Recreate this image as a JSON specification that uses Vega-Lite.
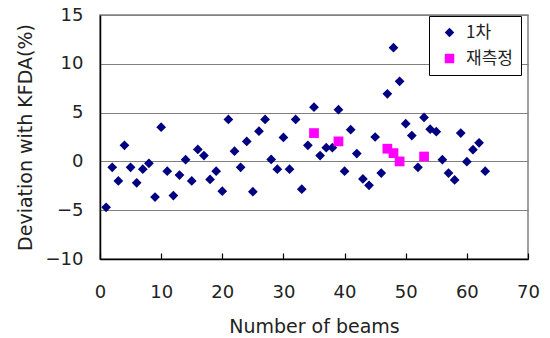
{
  "$schema": "https://vega.github.io/schema/vega-lite/v6.json",
  "autosize": {"type": "none"},
  "padding": {"left": 100, "top": 15, "right": 22, "bottom": 79},
  "width": 428,
  "height": 244,
  "background": "white",
  "view": {"stroke": "#808080", "strokeWidth": 1.5},
  "config": {
    "font": "DejaVu Sans",
    "axis": {"labelFont": "DejaVu Sans", "titleFont": "DejaVu Sans", "labelColor": "#222", "titleColor": "#222", "titleFontWeight": "normal"}
  },
  "data": {
    "values": [
      {"beam": 1, "dev": -4.7, "series": "1차"},
      {"beam": 2, "dev": -0.6, "series": "1차"},
      {"beam": 3, "dev": -2.0, "series": "1차"},
      {"beam": 4, "dev": 1.65, "series": "1차"},
      {"beam": 5, "dev": -0.6, "series": "1차"},
      {"beam": 6, "dev": -2.2, "series": "1차"},
      {"beam": 7, "dev": -0.8, "series": "1차"},
      {"beam": 8, "dev": -0.2, "series": "1차"},
      {"beam": 9, "dev": -3.65, "series": "1차"},
      {"beam": 10, "dev": 3.5, "series": "1차"},
      {"beam": 11, "dev": -1.0, "series": "1차"},
      {"beam": 12, "dev": -3.5, "series": "1차"},
      {"beam": 13, "dev": -1.4, "series": "1차"},
      {"beam": 14, "dev": 0.17, "series": "1차"},
      {"beam": 15, "dev": -2.0, "series": "1차"},
      {"beam": 16, "dev": 1.23, "series": "1차"},
      {"beam": 17, "dev": 0.6, "series": "1차"},
      {"beam": 18, "dev": -1.85, "series": "1차"},
      {"beam": 19, "dev": -1.0, "series": "1차"},
      {"beam": 20, "dev": -3.05, "series": "1차"},
      {"beam": 21, "dev": 4.3, "series": "1차"},
      {"beam": 22, "dev": 1.05, "series": "1차"},
      {"beam": 23, "dev": -0.6, "series": "1차"},
      {"beam": 24, "dev": 2.05, "series": "1차"},
      {"beam": 25, "dev": -3.1, "series": "1차"},
      {"beam": 26, "dev": 3.1, "series": "1차"},
      {"beam": 27, "dev": 4.3, "series": "1차"},
      {"beam": 28, "dev": 0.2, "series": "1차"},
      {"beam": 29, "dev": -0.8, "series": "1차"},
      {"beam": 30, "dev": 2.45, "series": "1차"},
      {"beam": 31, "dev": -0.8, "series": "1차"},
      {"beam": 32, "dev": 4.3, "series": "1차"},
      {"beam": 33, "dev": -2.85, "series": "1차"},
      {"beam": 34, "dev": 1.65, "series": "1차"},
      {"beam": 35, "dev": 5.55, "series": "1차"},
      {"beam": 36, "dev": 0.6, "series": "1차"},
      {"beam": 37, "dev": 1.4, "series": "1차"},
      {"beam": 38, "dev": 1.4, "series": "1차"},
      {"beam": 39, "dev": 5.3, "series": "1차"},
      {"beam": 40, "dev": -1.0, "series": "1차"},
      {"beam": 41, "dev": 3.25, "series": "1차"},
      {"beam": 42, "dev": 0.8, "series": "1차"},
      {"beam": 43, "dev": -1.8, "series": "1차"},
      {"beam": 44, "dev": -2.45, "series": "1차"},
      {"beam": 45, "dev": 2.5, "series": "1차"},
      {"beam": 46, "dev": -1.2, "series": "1차"},
      {"beam": 47, "dev": 6.93, "series": "1차"},
      {"beam": 48, "dev": 11.65, "series": "1차"},
      {"beam": 49, "dev": 8.2, "series": "1차"},
      {"beam": 50, "dev": 3.87, "series": "1차"},
      {"beam": 51, "dev": 2.65, "series": "1차"},
      {"beam": 52, "dev": -0.6, "series": "1차"},
      {"beam": 53, "dev": 4.5, "series": "1차"},
      {"beam": 54, "dev": 3.3, "series": "1차"},
      {"beam": 55, "dev": 3.05, "series": "1차"},
      {"beam": 56, "dev": 0.17, "series": "1차"},
      {"beam": 57, "dev": -1.2, "series": "1차"},
      {"beam": 58, "dev": -1.9, "series": "1차"},
      {"beam": 59, "dev": 2.9, "series": "1차"},
      {"beam": 60, "dev": -0.03, "series": "1차"},
      {"beam": 61, "dev": 1.2, "series": "1차"},
      {"beam": 62, "dev": 1.9, "series": "1차"},
      {"beam": 63, "dev": -1.0, "series": "1차"},
      {"beam": 35, "dev": 2.9, "series": "재측정"},
      {"beam": 39, "dev": 2.05, "series": "재측정"},
      {"beam": 47, "dev": 1.3, "series": "재측정"},
      {"beam": 48, "dev": 0.85, "series": "재측정"},
      {"beam": 49, "dev": 0.0, "series": "재측정"},
      {"beam": 53, "dev": 0.5, "series": "재측정"}
    ]
  },
  "mark": {"type": "point", "filled": true, "opacity": 1, "size": 95},
  "encoding": {
    "x": {
      "field": "beam", "type": "quantitative",
      "scale": {"domain": [0, 70], "nice": false, "zero": false},
      "axis": {
        "title": "Number of beams", "values": [0, 10, 20, 30, 40, 50, 60, 70],
        "grid": false, "domainColor": "#000", "domainWidth": 1.5,
        "tickColor": "#000", "tickSize": -6, "tickWidth": 1.2,
        "labelPadding": 30, "labelFontSize": 18, "titleFontSize": 19, "titlePadding": 16,
        "labelFlush": false
      }
    },
    "y": {
      "field": "dev", "type": "quantitative",
      "scale": {"domain": [-10, 15], "nice": false, "zero": false},
      "axis": {
        "title": "Deviation with KFDA(%)", "values": [-10, -5, 0, 5, 10, 15],
        "grid": true, "gridColor": "#808080", "gridWidth": 1.2,
        "domainColor": "#000", "domainWidth": 1.5, "ticks": false,
        "labelPadding": 17, "labelFontSize": 18, "titleFontSize": 19, "titlePadding": 10,
        "labelFlush": false
      }
    },
    "color": {
      "field": "series", "type": "nominal",
      "scale": {"domain": ["1차", "재측정"], "range": ["#000080", "#FF00FF"]},
      "legend": {
        "title": null, "orient": "none", "legendX": 329, "legendY": 1,
        "fillColor": "white", "strokeColor": "#000", "padding": 8,
        "labelFont": "Noto Sans CJK KR", "labelFontSize": 17, "labelColor": "#222",
        "symbolSize": 90, "symbolOffset": 4, "labelOffset": 8, "rowPadding": 8,
        "symbolStrokeWidth": 0
      }
    },
    "shape": {
      "field": "series", "type": "nominal",
      "scale": {"domain": ["1차", "재측정"], "range": ["diamond", "square"]}
    }
  }
}
